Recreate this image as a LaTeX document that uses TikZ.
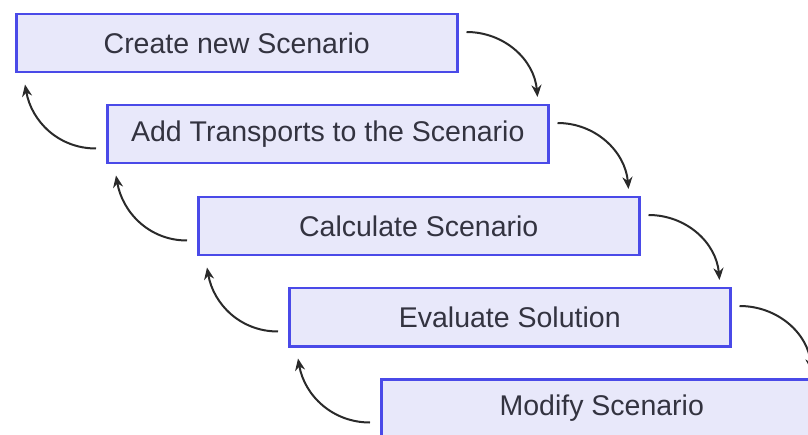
\documentclass[tikz,border=0pt]{standalone}
\usepackage{fontspec}
\setmainfont{Liberation Sans}
\usetikzlibrary{arrows.meta}
\definecolor{boxfill}{HTML}{E8E8FA}
\definecolor{boxline}{HTML}{4A4AE8}
\definecolor{txt}{HTML}{333340}
\definecolor{arr}{HTML}{2A2A2A}
\begin{document}
\begin{tikzpicture}[x=1pt,y=-1pt,
  stepbox/.style={draw=boxline,fill=boxfill,line width=2.5pt,minimum width=441pt,minimum height=58pt,inner sep=0pt,anchor=north west,font=\fontsize{28.5}{32}\selectfont,text=txt},
  fwd/.style={draw=arr,line width=2pt,-{Stealth[length=12pt,width=10pt]}},
]
\useasboundingbox (0,0) rectangle (808,435);
\clip (0,0) rectangle (808,435);
\node[stepbox] (b1) at (15,13) {Create new Scenario};
\node[stepbox] (b2) at (106,104) {Add Transports to the Scenario};
\node[stepbox] (b3) at (197,196) {Calculate Scenario};
\node[stepbox] (b4) at (288,287) {Evaluate Solution};
\node[stepbox] (b5) at (380,378) {Modify Scenario};
\foreach \a/\b in {b1/b2,b2/b3,b3/b4,b4/b5}{
  \draw[fwd] ([xshift=8pt,yshift=-19pt]\a.north east) to[out=0,in=95] ([xshift=-12pt,yshift=7pt]\b.north east);
  \draw[fwd] ([xshift=-10pt,yshift=16pt]\b.south west) to[out=180,in=-80] ([xshift=10pt,yshift=-11pt]\a.south west);
}
\end{tikzpicture}
\end{document}
